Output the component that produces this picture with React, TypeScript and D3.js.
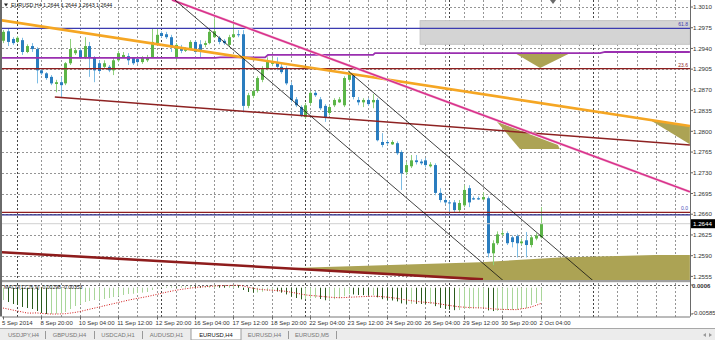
import React from 'react';
import * as d3 from 'd3';

// ---------- DATA ----------
const opens = [1.2953,1.2969,1.2956,1.2951,1.2954,1.2934,1.2944,1.2939,1.2903,1.2898,
1.2892,1.2880,1.2883,1.2881,1.2915,1.2932,1.2937,1.2925,1.2944,1.2924,
1.2915,1.2909,1.2909,1.2903,1.2920,1.2925,1.2927,1.2924,1.2922,1.2917,
1.2920,1.2925,1.2949,1.2966,1.2964,1.2959,1.2925,1.2942,1.2936,1.2939,
1.2951,1.2947,1.2946,1.2949,1.2959,1.2958,1.2953,1.2946,1.2959,1.2964,
1.2964,1.2843,1.2860,1.2868,1.2887,1.2907,1.2914,1.2917,1.2909,1.2907,
1.2878,1.2854,1.2841,1.2824,1.2848,1.2865,1.2854,1.2843,1.2831,1.2844,
1.2849,1.2844,1.2887,1.2895,1.2853,1.2849,1.2853,1.2849,1.2853,1.2782,
1.2782,1.2778,1.2780,1.2765,1.2731,1.2741,1.2751,1.2749,1.2751,1.2741,
1.2743,1.2696,1.2684,1.2680,1.2680,1.2667,1.2675,1.2704,1.2687,1.2687,
1.2685,1.2687,1.2594,1.2611,1.2626,1.2628,1.2621,1.2623,1.2611,1.2616,
1.2608,1.2619,1.2621];
const highs = [1.2971,1.2974,1.2959,1.2961,1.2958,1.2947,1.2949,1.2942,1.2907,1.2900,
1.2895,1.2887,1.2892,1.2917,1.2956,1.2941,1.2941,1.2959,1.2951,1.2927,
1.2920,1.2920,1.2912,1.2924,1.2936,1.2934,1.2932,1.2925,1.2924,1.2927,
1.2929,1.2974,1.2974,1.2969,1.2968,1.2963,1.2949,1.2946,1.2942,1.2954,
1.2954,1.2954,1.2953,1.2971,1.2991,1.2961,1.2956,1.2963,1.2980,1.2971,
1.2971,1.2865,1.2871,1.2893,1.2910,1.2925,1.2924,1.2925,1.2914,1.2910,
1.2883,1.2858,1.2844,1.2848,1.2868,1.2868,1.2858,1.2846,1.2844,1.2856,
1.2858,1.2893,1.2902,1.2898,1.2858,1.2856,1.2856,1.2863,1.2856,1.2797,
1.2785,1.2785,1.2783,1.2768,1.2748,1.2760,1.2760,1.2753,1.2755,1.2748,
1.2746,1.2704,1.2687,1.2684,1.2684,1.2684,1.2709,1.2709,1.2690,1.2690,
1.2697,1.2690,1.2616,1.2631,1.2633,1.2631,1.2624,1.2626,1.2619,1.2630,
1.2624,1.2628,1.2672];
const lows = [1.2949,1.2944,1.2946,1.2949,1.2929,1.2932,1.2934,1.2881,1.2895,1.2887,
1.2878,1.2866,1.2856,1.2878,1.2912,1.2929,1.2922,1.2922,1.2892,1.2883,
1.2898,1.2907,1.2900,1.2895,1.2917,1.2924,1.2912,1.2912,1.2914,1.2914,
1.2917,1.2924,1.2946,1.2958,1.2956,1.2934,1.2920,1.2932,1.2934,1.2937,
1.2931,1.2924,1.2942,1.2947,1.2958,1.2947,1.2946,1.2942,1.2958,1.2959,
1.2832,1.2839,1.2856,1.2865,1.2883,1.2903,1.2910,1.2903,1.2897,1.2878,
1.2849,1.2841,1.2824,1.2821,1.2844,1.2858,1.2836,1.2816,1.2827,1.2841,
1.2848,1.2841,1.2883,1.2854,1.2844,1.2841,1.2843,1.2839,1.2783,1.2773,
1.2777,1.2777,1.2760,1.2701,1.2726,1.2738,1.2744,1.2743,1.2739,1.2739,
1.2692,1.2680,1.2677,1.2663,1.2663,1.2663,1.2672,1.2672,1.2684,1.2684,
1.2684,1.2587,1.2574,1.2608,1.2623,1.2608,1.2604,1.2587,1.2608,1.2587,
1.2604,1.2616,1.2619];
const closes = [1.2968,1.2951,1.2949,1.2958,1.2934,1.2944,1.2939,1.2903,1.2898,1.2890,
1.2881,1.2883,1.2878,1.2915,1.2939,1.2937,1.2925,1.2944,1.2925,1.2903,
1.2902,1.2915,1.2903,1.2920,1.2932,1.2929,1.2920,1.2915,1.2917,1.2924,
1.2925,1.2951,1.2963,1.2961,1.2959,1.2942,1.2946,1.2936,1.2939,1.2951,
1.2934,1.2937,1.2949,1.2968,1.2969,1.2951,1.2949,1.2959,1.2964,1.2963,
1.2843,1.2861,1.2868,1.2890,1.2907,1.2920,1.2917,1.2909,1.2900,1.2881,
1.2853,1.2844,1.2827,1.2844,1.2865,1.2861,1.2839,1.2824,1.2841,1.2853,
1.2854,1.2890,1.2898,1.2858,1.2849,1.2853,1.2846,1.2853,1.2785,1.2777,
1.2780,1.2782,1.2763,1.2729,1.2743,1.2751,1.2748,1.2746,1.2743,1.2744,
1.2696,1.2684,1.2680,1.2679,1.2667,1.2679,1.2701,1.2680,1.2685,1.2685,
1.2689,1.2594,1.2611,1.2626,1.2628,1.2611,1.2613,1.2611,1.2614,1.2608,
1.2621,1.2624,1.2644];

const macdMain = [-0.00274,-0.00318,-0.00363,-0.00385,-0.00429,-0.00452,-0.00474,-0.00518,-0.00563,-0.00585,
-0.00585,-0.00580,-0.00570,-0.00540,-0.00474,-0.00407,-0.00363,-0.00318,-0.00296,-0.00274,
-0.00270,-0.00251,-0.00229,-0.00207,-0.00185,-0.00162,-0.00140,-0.00135,-0.00118,-0.00110,
-0.00096,-0.00051,-0.00007,0.00016,0.00025,0.00030,0.00028,0.00032,0.00035,0.00045,
0.00040,0.00036,0.00040,0.00052,0.00060,0.00055,0.00050,0.00054,0.00058,0.00056,
-0.00051,-0.00096,-0.00110,-0.00105,-0.00090,-0.00074,-0.00070,-0.00085,-0.00110,-0.00150,
-0.00200,-0.00229,-0.00260,-0.00255,-0.00235,-0.00229,-0.00251,-0.00280,-0.00274,-0.00255,
-0.00235,-0.00190,-0.00145,-0.00150,-0.00162,-0.00165,-0.00170,-0.00168,-0.00215,-0.00255,
-0.00280,-0.00285,-0.00305,-0.00350,-0.00360,-0.00358,-0.00360,-0.00362,-0.00365,-0.00363,
-0.00410,-0.00450,-0.00474,-0.00490,-0.00500,-0.00496,-0.00470,-0.00468,-0.00465,-0.00458,
-0.00452,-0.00505,-0.00520,-0.00515,-0.00500,-0.00496,-0.00492,-0.00490,-0.00474,-0.00452,
-0.00385,-0.00340,-0.00298];
const macdSignal = [-0.00452,-0.00474,-0.00496,-0.00518,-0.00540,-0.00563,-0.00565,-0.00560,-0.00572,-0.00580,
-0.00585,-0.00585,-0.00583,-0.00578,-0.00565,-0.00550,-0.00530,-0.00505,-0.00480,-0.00455,
-0.00430,-0.00405,-0.00380,-0.00355,-0.00330,-0.00305,-0.00280,-0.00258,-0.00238,-0.00218,
-0.00198,-0.00175,-0.00150,-0.00125,-0.00100,-0.00078,-0.00058,-0.00040,-0.00025,-0.00010,
0.00005,0.00015,0.00022,0.00030,0.00038,0.00043,0.00046,0.00049,0.00052,0.00054,
0.00040,0.00015,-0.00010,-0.00030,-0.00042,-0.00050,-0.00056,-0.00062,-0.00070,-0.00082,
-0.00100,-0.00120,-0.00140,-0.00160,-0.00172,-0.00180,-0.00190,-0.00200,-0.00210,-0.00218,
-0.00222,-0.00220,-0.00214,-0.00208,-0.00203,-0.00198,-0.00194,-0.00190,-0.00192,-0.00200,
-0.00210,-0.00222,-0.00235,-0.00255,-0.00272,-0.00288,-0.00302,-0.00315,-0.00325,-0.00333,
-0.00345,-0.00360,-0.00378,-0.00395,-0.00410,-0.00425,-0.00433,-0.00440,-0.00445,-0.00448,
-0.00450,-0.00460,-0.00470,-0.00478,-0.00482,-0.00485,-0.00487,-0.00488,-0.00470,-0.00455,
-0.00430,-0.00395,-0.00353];

const priceTicks = [1.3010,1.2975,1.2940,1.2905,1.2870,1.2835,1.2800,1.2765,1.2730,1.2695,1.2660,1.2625,1.2590,1.2555];
const priceTickLabels = ['1.3010','1.2975','1.2940','1.2905','1.2870','1.2835','1.2800','1.2765','1.2730','1.2695','1.2660','1.2625','1.2590','1.2555'];
const timeLabels = ['5 Sep 2014','8 Sep 20:00','10 Sep 04:00','11 Sep 12:00','12 Sep 20:00','16 Sep 04:00','17 Sep 12:00','18 Sep 20:00','22 Sep 04:00','23 Sep 12:00','24 Sep 20:00','26 Sep 04:00','29 Sep 12:00','30 Sep 20:00','2 Oct 04:00'];
const timeLabelBars = [0,8,16,24,32,40,48,56,64,72,80,88,96,104,112];
const weekSeparatorBars = [3,33,63,93,123];
const gridBars = [8,12,16,20,24,28,32,36,40,44,48,52,56,60,64,68,72,76,80,84,88,92,96,100,104,108,112,116,120,124,128,132,136,140];
const tabs = ['USDJPY,H4','GBPUSD,H4','USDCAD,H1','AUDUSD,H1','EURUSD,H4','EURUSD,H4','EURUSD,M5'];
const tabEdges = [2,45,94,142,191,241,288,336];
const activeTab = 4;

// chart objects: [bar index, price]
const orangeTrend = [[-0.6,1.2988],[143.1,1.2809]];
const magentaTrend = [[35.2,1.3022],[143.1,1.2698]];
const maroonTrend = [[10.8,1.2858],[143.1,1.2777]];
const channelLower = [[35.8,1.3022],[104.2,1.2548]];
const channelUpper = [[71.9,1.2902],[122.9,1.2548]];
const supportTrend = [[-0.6,1.2596],[100,1.2550]];
const purpleLevel = [[-0.6,1.2924],[44.2,1.2924],[45.2,1.2925],[54.6,1.2925],[55.2,1.2929],[77.1,1.2929],[77.5,1.2932],[124.4,1.2932],[125.4,1.2934],[143.1,1.2934]];
const fibLevels = [{ price: 1.2974, label: '61.8', color: '#3b3bb0' }, { price: 1.2906, label: '23.6', color: '#8e1f1f' }, { price: 1.2663, label: '0.0', color: '#8e1f1f' }];
const navyLevel = 1.2659;
const zoneRect = { b0: 86.9, b1: 143.1, p0: 1.2987, p1: 1.2947 };
const oliveShapes = [
  [[106.7,1.2932],[118.1,1.2932],[111.9,1.2907]],
  [[102.9,1.2816],[115.6,1.2777],[116.0,1.2770],[107.7,1.2770]],
  [[134.8,1.2819],[143.1,1.2809],[143.1,1.2778]],
  [[60.4,1.2569],[99.4,1.2579],[116.0,1.2587],[135.8,1.2591],[143.1,1.2591],[143.1,1.2547],[101.5,1.2547]],
];
const bid = 1.2644;
const titleText = 'EURUSD,H4 1.2644 1.2644 1.2643 1.2644';
const macdTitle = 'MACD(12,26,9) -0.00298 -0.00353';
const macdTicks = [0.0006, -0.00585];
const macdTickLabels = ['0.0006', '-0.00585'];

// ---------- LAYOUT ----------
const PLOT_R = 690;
const MAIN_B = 280;
const MACD_T = 283, MACD_B = 316.5;
const FONT = 'Liberation Sans, Arial, sans-serif';

export default function App() {
  const n = closes.length;
  const x = d3.scaleLinear().domain([0, n - 1]).range([3, 3 + (n - 1) * 4.8]);
  const y = d3.scaleLinear().domain([1.2555, 1.3010]).range([276.4, 7]);
  const ym = d3.scaleLinear().domain([-0.00585, 0.0006]).range([314, 285]);
  const line = d3.line<number[]>().x(d => x(d[0])).y(d => y(d[1]));
  const mline = d3.line<number>().x((_, i) => x(i)).y(d => ym(d));
  const poly = (pts: number[][]) => line(pts) + 'Z';

  const gridColor = '#959595';
  return (
    <svg width={715} height={340} style={{ position: 'absolute', left: 0, top: 0, display: 'block', background: '#fff' }} fontFamily={FONT}>
      <defs>
        <clipPath id="mainClip"><rect x={2} y={0} width={PLOT_R - 2} height={MAIN_B} /></clipPath>
        <clipPath id="macdClip"><rect x={2} y={MACD_T} width={PLOT_R - 2} height={MACD_B - MACD_T} /></clipPath>
      </defs>
      <rect x={0} y={0} width={715} height={340} fill="#fff" />

      {/* grid */}
      <g shapeRendering="crispEdges">
        {priceTicks.map((p, i) => (
          <line key={'hg' + i} x1={2} x2={PLOT_R} y1={Math.round(y(p)) + 0.5} y2={Math.round(y(p)) + 0.5} stroke={gridColor} strokeDasharray="2,2" />
        ))}
        {gridBars.map(b => (
          <g key={'vg' + b}>
            <line x1={Math.round(x(b)) + 0.5} x2={Math.round(x(b)) + 0.5} y1={0} y2={MAIN_B} stroke={gridColor} strokeDasharray="2,2" />
            <line x1={Math.round(x(b)) + 0.5} x2={Math.round(x(b)) + 0.5} y1={MACD_T} y2={MACD_B} stroke={gridColor} strokeDasharray="2,2" />
          </g>
        ))}
        {weekSeparatorBars.map(b => (
          <g key={'ws' + b}>
            <line x1={Math.round(x(b)) + 0.5} x2={Math.round(x(b)) + 0.5} y1={0} y2={MAIN_B} stroke="#444" strokeDasharray="2,2" />
            <line x1={Math.round(x(b)) + 0.5} x2={Math.round(x(b)) + 0.5} y1={MACD_T} y2={MACD_B} stroke="#444" strokeDasharray="2,2" />
          </g>
        ))}
        <line x1={2} x2={PLOT_R} y1={Math.round(ym(0.0006)) + 0.5} y2={Math.round(ym(0.0006)) + 0.5} stroke="#666" strokeDasharray="2,2" />
      </g>

      {/* background objects */}
      <g clipPath="url(#mainClip)">
        <rect x={x(zoneRect.b0)} y={y(zoneRect.p0)} width={x(zoneRect.b1) - x(zoneRect.b0)} height={y(zoneRect.p1) - y(zoneRect.p0)} fill="#d4d4d4" stroke="#c4c4c4" />
        {oliveShapes.map((s, i) => <path key={'ol' + i} d={poly(s)} fill="#aca354" />)}
      </g>

      {/* candles */}
      <g clipPath="url(#mainClip)">
        {closes.map((c, i) => {
          const o = opens[i];
          const up = c >= o;
          const top = y(Math.max(o, c));
          const bot = y(Math.min(o, c));
          const cx = Math.round(x(i)) + 0.5;
          return (
            <g key={'c' + i}>
              <line x1={cx} x2={cx} y1={y(highs[i])} y2={y(lows[i])} stroke={up ? '#8fd07c' : '#7cbce4'} strokeWidth={1} />
              <rect x={cx - 1.5} y={top} width={3} height={Math.max(1, bot - top)} fill={up ? '#5cb548' : '#2a7dbf'} />
            </g>
          );
        })}
      </g>

      {/* lines over the chart */}
      <g clipPath="url(#mainClip)" fill="none">
        <line x1={2} x2={PLOT_R} y1={y(bid)} y2={y(bid)} stroke="#d0d0d0" />
        {fibLevels.map((f, i) => (
          <line key={'fl' + i} x1={2} x2={PLOT_R} y1={y(f.price)} y2={y(f.price)} stroke={f.color} strokeWidth={1.3} />
        ))}
        <line x1={2} x2={PLOT_R} y1={y(navyLevel)} y2={y(navyLevel)} stroke="#2a2a8a" strokeWidth={1.3} />
        <path d={line(purpleLevel)!} stroke="#9a2fb0" strokeWidth={1.8} />
        <path d={line(maroonTrend)!} stroke="#8e2222" strokeWidth={1.5} />
        <path d={line(supportTrend)!} stroke="#8e1c1c" strokeWidth={2.6} />
        <path d={line(orangeTrend)!} stroke="#f5a623" strokeWidth={2.6} />
        <path d={line(magentaTrend)!} stroke="#f3c0da" strokeWidth={2.6} />
        <path d={line(magentaTrend)!} stroke="#d9338c" strokeWidth={1.6} />
        <path d={line(channelLower)!} stroke="#111" strokeWidth={0.8} />
        <path d={line(channelUpper)!} stroke="#111" strokeWidth={0.8} />
      </g>
      {fibLevels.map((f, i) => (
        <text key={'ft' + i} x={688} y={y(f.price) - 2} fontSize={5} textAnchor="end" fill={i === 2 ? '#4a4ab8' : f.color}>{f.label}</text>
      ))}
      <path d="M550,0 L556,0 L553,4 Z" fill="#6a6a6a" />

      {/* title */}
      <path d="M4,3.5 L8,3.5 L6,6.5 Z" fill="#222" />
      <text x={11} y={7.2} fontSize={5.3} fill="#111">{titleText}</text>

      {/* MACD */}
      <g clipPath="url(#macdClip)">
        {macdMain.map((v, i) => {
          const falling = i > 0 && v < macdMain[i - 1];
          const cx = Math.round(x(i)) + 0.5;
          return <line key={'m' + i} x1={cx} x2={cx} y1={ym(0)} y2={ym(v)} stroke={falling ? '#2a5a1c' : '#a9d69a'} strokeWidth={1} />;
        })}
        <path d={mline(macdSignal)!} fill="none" stroke="#d01818" strokeWidth={1} strokeDasharray="1,1.5" />
      </g>
      <text x={4} y={288.5} fontSize={5.1} fill="#111">{macdTitle}</text>

      {/* frames */}
      <rect x={0} y={0} width={2} height={MACD_B} fill="#6a6a6a" />
      <rect x={2} y={MAIN_B} width={PLOT_R - 2} height={2.2} fill="#a0a0a0" />
      <line x1={2} x2={PLOT_R} y1={MACD_B + 0.5} y2={MACD_B + 0.5} stroke="#777" />
      <line x1={PLOT_R + 0.5} x2={PLOT_R + 0.5} y1={0} y2={MACD_B} stroke="#6a6a6a" />

      {/* price axis */}
      {priceTicks.map((p, i) => (
        <g key={'pt' + i}>
          <line x1={PLOT_R} x2={PLOT_R + 3} y1={y(p)} y2={y(p)} stroke="#666" />
          <text x={693} y={y(p)} dy="0.35em" fontSize={6.2} fill="#333">{priceTickLabels[i]}</text>
        </g>
      ))}
      <rect x={PLOT_R + 1} y={y(bid) - 4.5} width={24} height={9} fill="#000" />
      <text x={693} y={y(bid)} dy="0.35em" fontSize={6.2} fill="#fff">{bid.toFixed(4)}</text>
      {macdTicks.map((v, i) => (
        <g key={'mt' + i}>
          <line x1={PLOT_R} x2={PLOT_R + 3} y1={ym(v)} y2={ym(v)} stroke="#666" />
          <text x={692} y={ym(v) + (i === 0 ? 0.5 : -1)} dy="0.35em" fontSize={6} fontWeight={i === 0 ? 700 : 400} fill="#333">{macdTickLabels[i]}</text>
        </g>
      ))}

      {/* time axis */}
      {timeLabelBars.map((b, i) => (
        <g key={'tl' + i}>
          <line x1={Math.round(x(b)) + 0.5} x2={Math.round(x(b)) + 0.5} y1={MACD_B} y2={MACD_B + 3} stroke="#666" />
          <text x={x(b) - 1} y={322.5} dy="0.35em" fontSize={6} fill="#333">{timeLabels[i]}</text>
        </g>
      ))}

      {/* tab bar */}
      <rect x={0} y={328} width={715} height={12} fill="#ececec" />
      <line x1={0} x2={715} y1={328.5} y2={328.5} stroke="#a8a8a8" />
      {tabs.map((t, i) => {
        const x0 = tabEdges[i];
        const w = tabEdges[i + 1] - x0;
        const active = i === activeTab;
        return (
          <g key={'tab' + i}>
            {active && <rect x={x0} y={328.5} width={w} height={11.5} fill="#fff" stroke="#9a9a9a" />}
            <text x={x0 + w / 2} y={335} dy="0.35em" fontSize={5.8} textAnchor="middle" fill={active ? '#111' : '#777'}>{t}</text>
            {!active && i + 1 !== activeTab && <line x1={x0 + w + 0.5} x2={x0 + w + 0.5} y1={331} y2={339} stroke="#999" />}
          </g>
        );
      })}
      <path d="M703,335 L706,333 L706,337 Z" fill="#999" />
      <path d="M712,335 L709,333 L709,337 Z" fill="#999" />
    </svg>
  );
}
